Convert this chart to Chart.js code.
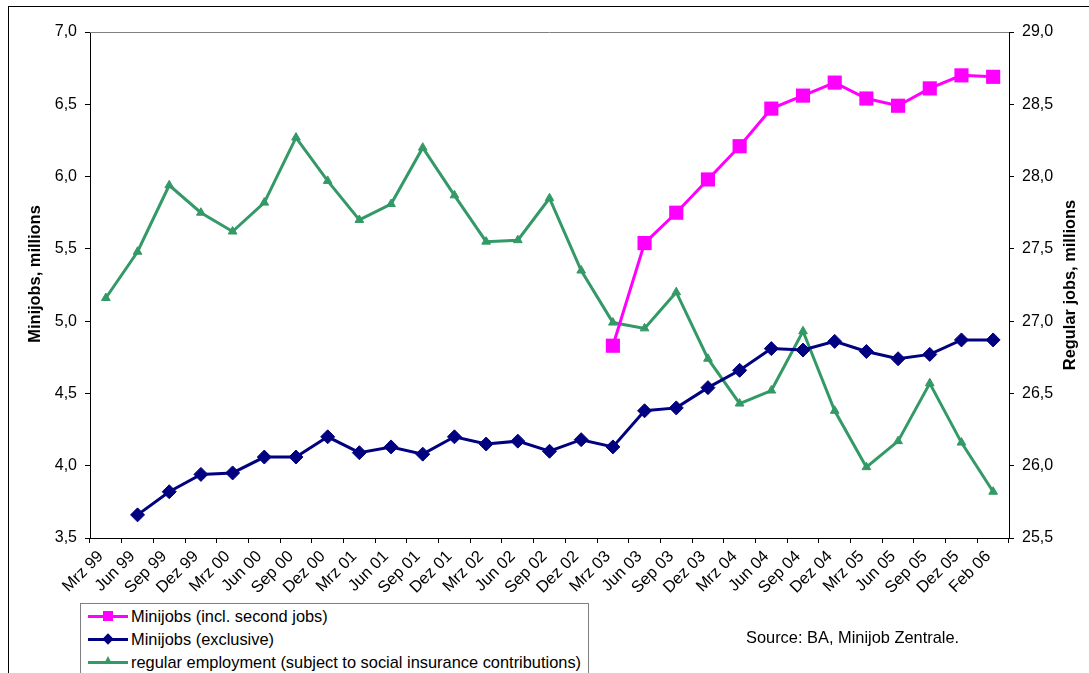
<!DOCTYPE html>
<html>
<head>
<meta charset="utf-8">
<title>Minijobs and regular employment</title>
<script src="https://cdn.jsdelivr.net/npm/chart.js@4.4.0/dist/chart.umd.min.js"></script>
<style>
  body { margin: 0; background: #fff; font-family: "Liberation Sans", Arial, sans-serif; }
  #wrap { position: relative; width: 1089px; height: 673px; overflow: hidden; background: #fff; }
  #frame { position: absolute; left: 8px; top: 6px; width: 1200px; height: 800px;
           border-left: 1px solid #000; border-top: 1px solid #000; }
  #chart { position: absolute; left: 0; top: 0; }
  #legend { position: absolute; left: 80px; top: 603px; width: 507px; height: 100px;
            border: 1px solid #808080; background: #fff; }
  .item { position: absolute; left: 7px; height: 20px; display: flex; align-items: center;
          font-size: 16.4px; color: #000; white-space: nowrap; }
  .sample { position: relative; width: 40px; height: 20px; margin-right: 3px; }
  .sample .ln { position: absolute; left: 0; right: 0; top: 9px; height: 3px; }
  .sample .mk { position: absolute; }
  #source { position: absolute; left: 746px; top: 628px; font-size: 16.4px; color: #000; white-space: nowrap; }
</style>
</head>
<body>
<div id="wrap">
  <div id="frame"></div>
  <canvas id="chart" width="1089" height="673"></canvas>
  <div id="legend"></div>
  <div id="source">Source: BA, Minijob Zentrale.</div>
</div>
<script>
/* chart data */
let months = ['Mrz 99', 'Jun 99', 'Sep 99', 'Dez 99', 'Mrz 00', 'Jun 00', 'Sep 00', 'Dez 00',
  'Mrz 01', 'Jun 01', 'Sep 01', 'Dez 01', 'Mrz 02', 'Jun 02', 'Sep 02', 'Dez 02',
  'Mrz 03', 'Jun 03', 'Sep 03', 'Dez 03', 'Mrz 04', 'Jun 04', 'Sep 04', 'Dez 04',
  'Mrz 05', 'Jun 05', 'Sep 05', 'Dez 05', 'Feb 06']

// left axis, millions
let minijobsInclSecond = [null, null, null, null, null, null, null, null,
  null, null, null, null, null, null, null, null,
  4.83, 5.54, 5.75, 5.98, 6.21, 6.47, 6.56, 6.65,
  6.54, 6.49, 6.61, 6.70, 6.69]

let minijobsExclusive = [null, 3.66, 3.82, 3.94, 3.95, 4.06, 4.06, 4.20,
  4.09, 4.13, 4.08, 4.20, 4.15, 4.17, 4.10, 4.18,
  4.13, 4.38, 4.40, 4.54, 4.66, 4.81, 4.80, 4.86,
  4.79, 4.74, 4.77, 4.87, 4.87]

// right axis, millions
let regularEmployment = [27.16, 27.48, 27.94, 27.75, 27.62, 27.82, 28.27, 27.97,
  27.70, 27.81, 28.20, 27.87, 27.55, 27.56, 27.85, 27.35,
  26.99, 26.95, 27.20, 26.74, 26.43, 26.52, 26.93, 26.38,
  25.99, 26.17, 26.57, 26.16, 25.82]

let seriesNames = ['Minijobs (incl. second jobs)', 'Minijobs (exclusive)',
  'regular employment (subject to social insurance contributions)']

let leftAxisTicks = [3.5, 4.0, 4.5, 5.0, 5.5, 6.0, 6.5, 7.0]
let rightAxisTicks = [25.5, 26.0, 26.5, 27.0, 27.5, 28.0, 28.5, 29.0]

let pink = '#ff00ff'
let navy = '#000080'
let green = '#339966'
let font = '"Liberation Sans", Arial, sans-serif'

// comma as decimal separator
function fmt(v) {
    return v.toFixed(1).replace('.', ',')
}

function drawVerticalTitle(ctx, text, x, y) {
    ctx.save()
    ctx.translate(x, y)
    ctx.rotate(-Math.PI / 2)
    ctx.fillStyle = '#000'
    ctx.font = 'bold 16.4px ' + font
    ctx.textAlign = 'center'
    ctx.textBaseline = 'middle'
    ctx.fillText(text, 0, 0)
    ctx.restore()
}

// grey line on top of the plot area + both axis titles (they read bottom to top)
let extras = {
    id: 'extras',
    afterDraw(chart) {
        let ctx = chart.ctx
        let a = chart.chartArea
        ctx.save()
        ctx.strokeStyle = '#808080'
        ctx.lineWidth = 1
        ctx.beginPath()
        ctx.moveTo(a.left, a.top + 0.5)
        ctx.lineTo(a.right, a.top + 0.5)
        ctx.stroke()
        ctx.restore()

        let mid = (a.top + a.bottom) / 2
        drawVerticalTitle(ctx, 'Minijobs, millions', 35, mid - 11)
        drawVerticalTitle(ctx, 'Regular jobs, millions', 1070, mid)
    }
}

let ctx = document.querySelector('#chart').getContext('2d')

let chart = new Chart(ctx, {
    type: 'line',
    data: {
        labels: months,
        datasets: [
            {
                label: seriesNames[0],
                data: minijobsInclSecond,
                yAxisID: 'y',
                borderColor: pink,
                backgroundColor: pink,
                borderWidth: 3,
                pointStyle: 'rect',
                pointRadius: 10,
                pointBorderWidth: 0,
                spanGaps: false
            },
            {
                label: seriesNames[1],
                data: minijobsExclusive,
                yAxisID: 'y',
                borderColor: navy,
                backgroundColor: navy,
                borderWidth: 3,
                pointStyle: 'rectRot',
                pointRadius: 7,
                pointBorderWidth: 1
            },
            {
                label: seriesNames[2],
                data: regularEmployment,
                yAxisID: 'y1',
                borderColor: green,
                backgroundColor: green,
                borderWidth: 3,
                pointStyle: 'triangle',
                pointRadius: 5,
                pointBorderWidth: 1
            }
        ]
    },
    options: {
        responsive: false,
        animation: false,
        layout: { padding: { left: 8, right: 0, top: 32, bottom: 75 } },
        plugins: {
            legend: { display: false },
            tooltip: { enabled: false }
        },
        scales: {
            x: {
                offset: true,
                afterFit(scale) { scale.height = 60 },
                grid: { offset: true, drawOnChartArea: false, tickLength: 5, color: '#000' },
                border: { color: '#000', width: 1 },
                ticks: {
                    autoSkip: false, maxRotation: 45, minRotation: 45, padding: 4, labelOffset: -5,
                    color: '#000', font: { family: font, size: 16.4 }
                }
            },
            y: {
                position: 'left',
                min: leftAxisTicks[0],
                max: leftAxisTicks[leftAxisTicks.length - 1],
                afterFit(scale) { scale.width = 82 },
                afterBuildTicks(scale) { scale.ticks = leftAxisTicks.map(v => ({ value: v })) },
                grid: { drawOnChartArea: false, tickLength: 5, color: '#000' },
                border: { color: '#000', width: 1 },
                ticks: {
                    padding: 8, color: '#000', font: { family: font, size: 16 },
                    callback: v => fmt(v)
                }
            },
            y1: {
                position: 'right',
                min: rightAxisTicks[0],
                max: rightAxisTicks[rightAxisTicks.length - 1],
                afterFit(scale) { scale.width = 80 },
                afterBuildTicks(scale) { scale.ticks = rightAxisTicks.map(v => ({ value: v })) },
                grid: { drawOnChartArea: false, tickLength: 5, color: '#000' },
                border: { color: '#000', width: 1 },
                ticks: {
                    padding: 8, color: '#000', font: { family: font, size: 16 },
                    callback: v => fmt(v)
                }
            }
        }
    },
    plugins: [extras]
})

// legend box, built from the chart's datasets
let legendBox = document.querySelector('#legend')
chart.data.datasets.forEach(function(ds, i) {
    let item = document.createElement('div')
    item.className = 'item'
    item.style.top = (2 + i * 23) + 'px'

    let sample = document.createElement('span')
    sample.className = 'sample'
    let ln = document.createElement('span')
    ln.className = 'ln'
    ln.style.background = ds.borderColor
    sample.appendChild(ln)

    let mk = document.createElement('span')
    mk.className = 'mk'
    if (ds.pointStyle === 'rect') {
        mk.style.cssText = 'left:15px;top:5px;width:10px;height:10px;background:' + ds.borderColor
    } else if (ds.pointStyle === 'rectRot') {
        mk.style.cssText = 'left:16px;top:6px;width:8px;height:8px;transform:rotate(45deg);background:' + ds.borderColor
    } else {
        mk.style.cssText = 'left:16px;top:4px;width:0;height:0;border-left:4px solid transparent;' +
            'border-right:4px solid transparent;border-bottom:8px solid ' + ds.borderColor
    }
    sample.appendChild(mk)

    let text = document.createElement('span')
    text.textContent = ds.label

    item.appendChild(sample)
    item.appendChild(text)
    legendBox.appendChild(item)
})
</script>
</body>
</html>
